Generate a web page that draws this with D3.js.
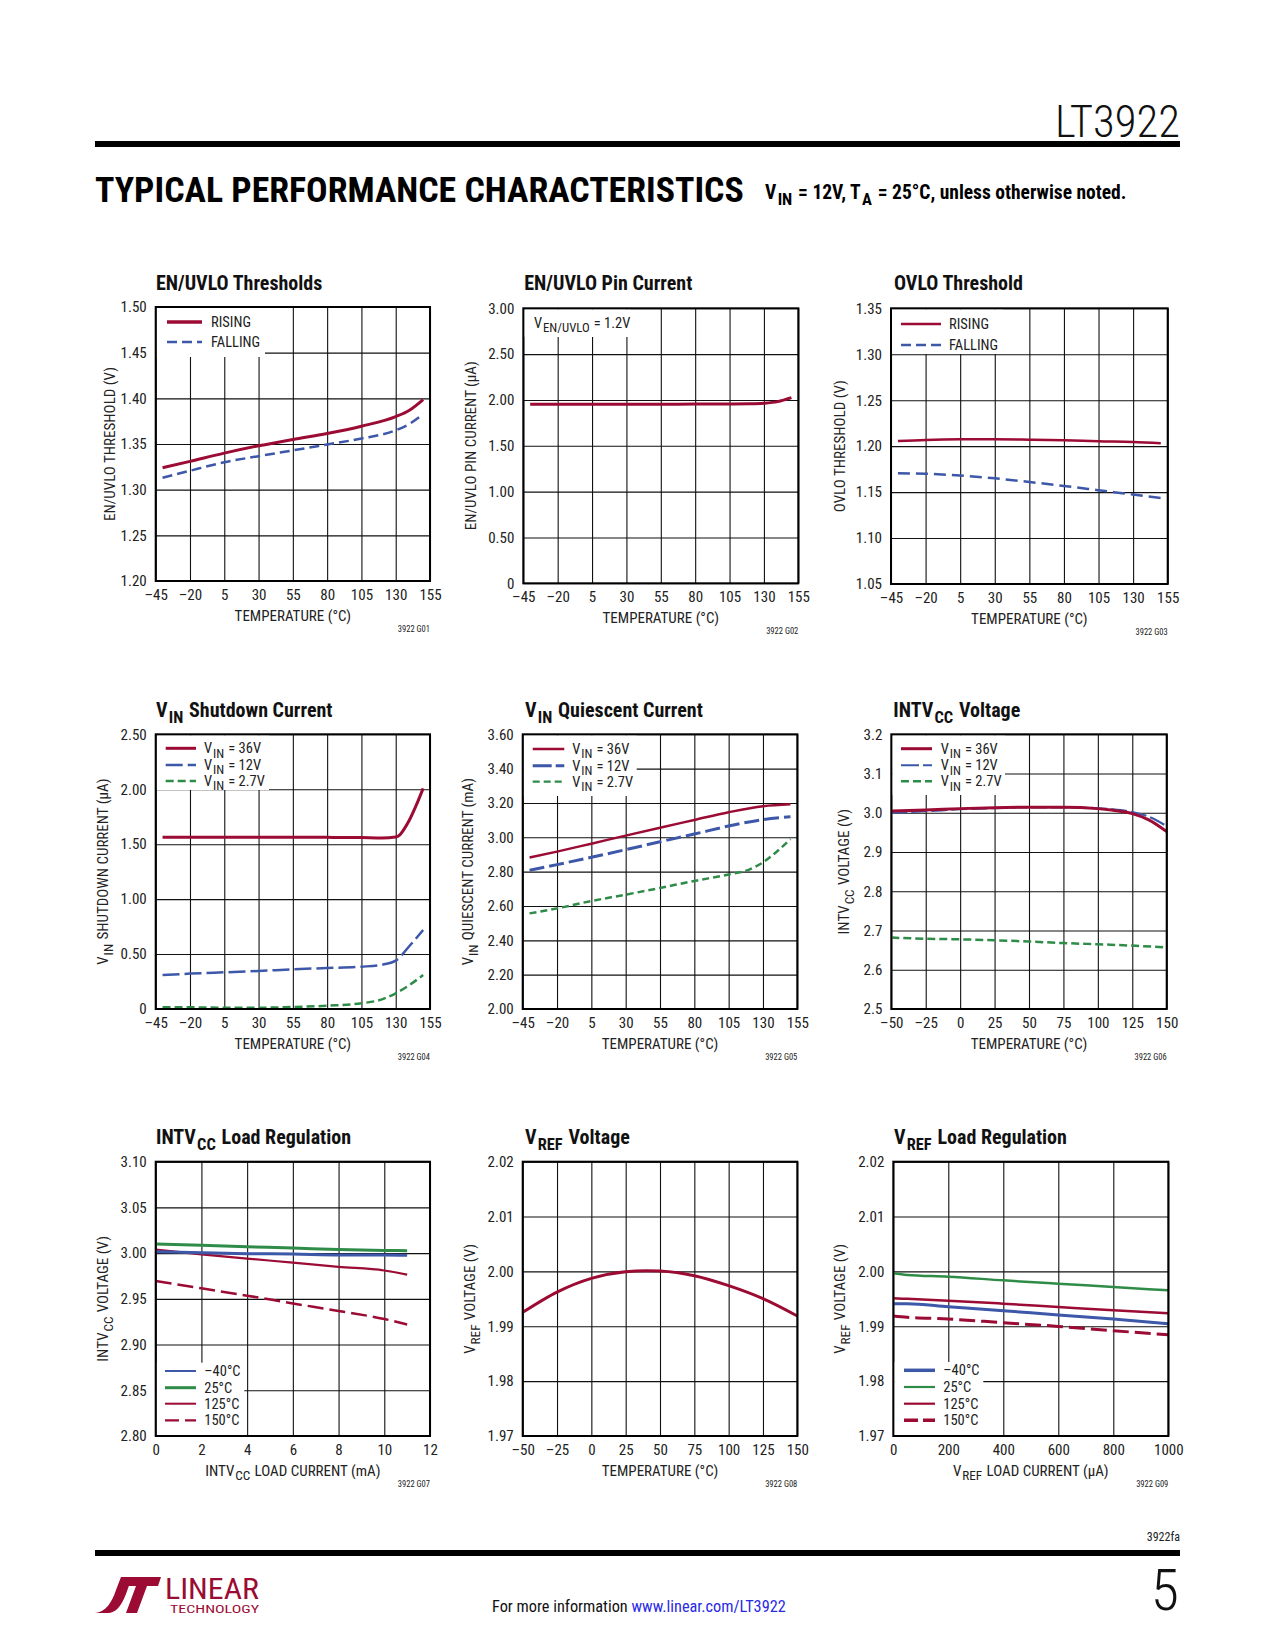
<!DOCTYPE html>
<html><head><meta charset="utf-8">
<script src="https://cdn.jsdelivr.net/npm/d3@7"></script>
<style>
body{margin:0;background:#fff;}
svg text{font-family:"Liberation Sans Narrow","Arial Narrow","Roboto Condensed",sans-serif;}
</style></head>
<body><svg id="page" width="1275" height="1650" xmlns="http://www.w3.org/2000/svg"></svg>
<script>
// ---------------- DATA ----------------
const tempTicksA = [-45, -20, 5, 30, 55, 80, 105, 130, 155];
const tempLabelsA = ['–45', '–20', '5', '30', '55', '80', '105', '130', '155'];
const tempTicksB = [-50, -25, 0, 25, 50, 75, 100, 125, 150];
const tempLabelsB = ['–50', '–25', '0', '25', '50', '75', '100', '125', '150'];

// G01 EN/UVLO Thresholds
const g01YTicks = [1.20, 1.25, 1.30, 1.35, 1.40, 1.45, 1.50];
const g01YLabels = ['1.20', '1.25', '1.30', '1.35', '1.40', '1.45', '1.50'];
const g01Temp = [-40, -20, 5, 30, 55, 80, 105, 130, 140, 150];
const g01Rising = [1.324, 1.331, 1.340, 1.348, 1.355, 1.3615, 1.3695, 1.380, 1.387, 1.3987];
const g01Falling = [1.313, 1.3207, 1.330, 1.3367, 1.343, 1.3495, 1.356, 1.365, 1.372, 1.3826];

// G02 EN/UVLO Pin Current
const g02YTicks = [0, 0.5, 1.0, 1.5, 2.0, 2.5, 3.0];
const g02YLabels = ['0', '0.50', '1.00', '1.50', '2.00', '2.50', '3.00'];
const g02Temp = [-40, -20, 5, 30, 55, 80, 105, 120, 130, 140, 150];
const g02Current = [1.953, 1.953, 1.953, 1.953, 1.954, 1.955, 1.956, 1.958, 1.964, 1.982, 2.025];

// G03 OVLO Threshold
const g03YTicks = [1.05, 1.10, 1.15, 1.20, 1.25, 1.30, 1.35];
const g03YLabels = ['1.05', '1.10', '1.15', '1.20', '1.25', '1.30', '1.35'];
const g03Temp = [-40, -20, 5, 30, 55, 80, 105, 130, 150];
const g03Rising = [1.2056, 1.2068, 1.2074, 1.2074, 1.2070, 1.2064, 1.2053, 1.2045, 1.2031];
const g03Falling = [1.1704, 1.1700, 1.1680, 1.1650, 1.1610, 1.1567, 1.1520, 1.1473, 1.1436];

// G04 VIN Shutdown Current
const g04YTicks = [0, 0.5, 1.0, 1.5, 2.0, 2.5];
const g04YLabels = ['0', '0.50', '1.00', '1.50', '2.00', '2.50'];
const g04Temp36 = [-40, -20, 5, 30, 55, 80, 105, 120, 130, 133, 136, 140, 145, 150];
const g04V36 = [1.563, 1.563, 1.563, 1.563, 1.563, 1.562, 1.560, 1.557, 1.565, 1.585, 1.635, 1.720, 1.855, 2.008];
const g04Temp = [-40, -20, 5, 30, 55, 80, 105, 120, 130, 140, 150];
const g04V12 = [0.309, 0.322, 0.334, 0.346, 0.361, 0.373, 0.385, 0.403, 0.440, 0.573, 0.719];
const g04V27 = [0.015, 0.015, 0.012, 0.012, 0.018, 0.030, 0.052, 0.088, 0.143, 0.218, 0.309];

// G05 VIN Quiescent Current
const g05YTicks = [2.0, 2.2, 2.4, 2.6, 2.8, 3.0, 3.2, 3.4, 3.6];
const g05YLabels = ['2.00', '2.20', '2.40', '2.60', '2.80', '3.00', '3.20', '3.40', '3.60'];
const g05Temp = [-40, -20, 5, 30, 55, 80, 105, 130, 150];
const g05V36 = [2.882, 2.9165, 2.963, 3.010, 3.056, 3.101, 3.146, 3.181, 3.192];
const g05V12 = [2.808, 2.841, 2.8835, 2.928, 2.974, 3.019, 3.066, 3.103, 3.120];
const g05Temp27 = [-40, -20, 5, 30, 55, 80, 105, 120, 130, 140, 150];
const g05V27 = [2.557, 2.586, 2.629, 2.666, 2.705, 2.746, 2.783, 2.812, 2.854, 2.916, 2.990];

// G06 INTVCC Voltage
const g06YTicks = [2.5, 2.6, 2.7, 2.8, 2.9, 3.0, 3.1, 3.2];
const g06YLabels = ['2.5', '2.6', '2.7', '2.8', '2.9', '3.0', '3.1', '3.2'];
const g06Temp = [-50, -25, 0, 25, 50, 75, 100, 110, 125, 137, 150];
const g06V36 = [3.0046, 3.0070, 3.0106, 3.0131, 3.0140, 3.0140, 3.0106, 3.0070, 2.9980, 2.9820, 2.9520];
const g06V12 = [3.0003, 3.0040, 3.0090, 3.0120, 3.0140, 3.0140, 3.0114, 3.0090, 3.0020, 2.9900, 2.9660];
const g06Temp27 = [-50, -25, 0, 25, 50, 75, 100, 125, 150];
const g06V27 = [2.682, 2.679, 2.6776, 2.675, 2.672, 2.668, 2.665, 2.6615, 2.657];

// G07 INTVCC Load Regulation
const g07XTicks = [0, 2, 4, 6, 8, 10, 12];
const g07XLabels = ['0', '2', '4', '6', '8', '10', '12'];
const g07YTicks = [2.80, 2.85, 2.90, 2.95, 3.00, 3.05, 3.10];
const g07YLabels = ['2.80', '2.85', '2.90', '2.95', '3.00', '3.05', '3.10'];
const g07Load = [0, 2, 4, 6, 8, 10, 11];
const g07Tm40 = [3.0016, 3.0005, 2.9994, 2.9990, 2.9980, 2.9980, 2.9976];
const g07T25 = [3.0100, 3.0085, 3.0070, 3.0056, 3.0040, 3.0030, 3.0027];
const g07T125 = [3.0038, 2.9987, 2.9940, 2.9896, 2.9850, 2.9810, 2.9765];
const g07T150 = [2.9695, 2.9615, 2.9535, 2.9450, 2.9367, 2.9280, 2.9220];

// G08 VREF Voltage
const g08YTicks = [1.97, 1.98, 1.99, 2.00, 2.01, 2.02];
const g08YLabels = ['1.97', '1.98', '1.99', '2.00', '2.01', '2.02'];
const g08Temp = [-50, -25, 0, 25, 40, 50, 75, 100, 125, 150];
const g08Vref = [1.99254, 1.99624, 1.99874, 1.99995, 2.00013, 2.00007, 1.99922, 1.99740, 1.99503, 1.99187];

// G09 VREF Load Regulation
const g09XTicks = [0, 200, 400, 600, 800, 1000];
const g09XLabels = ['0', '200', '400', '600', '800', '1000'];
const g09Load = [0, 50, 200, 400, 600, 800, 1000];
const g09T25 = [1.99965, 1.99935, 1.99904, 1.99837, 1.99776, 1.99716, 1.99655];
const g09T125 = [1.99509, 1.99500, 1.99467, 1.99412, 1.99351, 1.99290, 1.99236];
const g09Tm40 = [1.99412, 1.99412, 1.99357, 1.99284, 1.99205, 1.99132, 1.99047];
const g09T150 = [1.99187, 1.99165, 1.99132, 1.99065, 1.98998, 1.98919, 1.98846];

// ---------------- STYLE / LAYOUT ----------------
const RED = '#9b0b33', BLUE = '#3d57a9', GREEN = '#2f8c48';
const FONT = '"Liberation Sans Narrow","Arial Narrow","Roboto Condensed",sans-serif';
const svg = d3.select('#page');

function rich(sel, parts, size, ratio, gap) {
  const r = ratio || 0.82;
  const gp = gap || 0.06;
  let shifted = false;
  parts.forEach(([t, sub]) => {
    const ts = sel.append('tspan').text(t);
    if (sub) {
      ts.attr('font-size', size * r).attr('dx', size * gp);
      if (!shifted) { ts.attr('dy', size * 0.3); shifted = true; }
    } else if (shifted) { ts.attr('dy', -size * 0.3).attr('dx', size * gp); shifted = false; }
  });
}

const TEMPX = [['TEMPERATURE (°C)', 0]];
const charts = [
  { note: '3922 G01', title: [['EN/UVLO Thresholds', 0]], box: [155.7, 307, 430, 581], tb: 290, tx: 156,
    xd: [-45, 155], xt: tempTicksA, xl: tempLabelsA, yd: [1.20, 1.50], yt: g01YTicks, yl: g01YLabels,
    ylab: [['EN/UVLO THRESHOLD (V)', 0]], ylx: 115, xlab: TEMPX,
    series: [
      { x: g01Temp, y: g01Falling, c: BLUE, w: 2.5, d: '10,5' },
      { x: g01Temp, y: g01Rising, c: RED, w: 3 }],
    legend: { bg: [155.7, 307, 265, 357], lx: [167, 202], tx: 211,
      rows: [{ y: 322, c: RED, w: 3.5, t: [['RISING', 0]] }, { y: 342, c: BLUE, w: 2.5, d: '10,5', t: [['FALLING', 0]] }] } },
  { note: '3922 G02', title: [['EN/UVLO Pin Current', 0]], box: [523.3, 308.3, 798.3, 583.3], tb: 290, tx: 524.3,
    xd: [-45, 155], xt: tempTicksA, xl: tempLabelsA, yd: [0, 3], yt: g02YTicks, yl: g02YLabels,
    ylab: [['EN/UVLO PIN CURRENT (µA)', 0]], ylx: 475.7, xlab: TEMPX,
    series: [{ x: g02Temp, y: g02Current, c: RED, w: 3 }],
    legend: { bg: [523.3, 308.3, 630, 337], tx: 534,
      rows: [{ y: 323, t: [['V', 0], ['EN/UVLO', 1], [' = 1.2V', 0]] }] } },
  { note: '3922 G03', title: [['OVLO Threshold', 0]], box: [891, 308.3, 1167.7, 584], tb: 290, tx: 894,
    xd: [-45, 155], xt: tempTicksA, xl: tempLabelsA, yd: [1.05, 1.35], yt: g03YTicks, yl: g03YLabels,
    ylab: [['OVLO THRESHOLD  (V)', 0]], ylx: 845, xlab: TEMPX,
    series: [
      { x: g03Temp, y: g03Falling, c: BLUE, w: 2.5, d: '12,6' },
      { x: g03Temp, y: g03Rising, c: RED, w: 2.5 }],
    legend: { bg: [891, 308.3, 1003, 354], lx: [901, 941], tx: 949,
      rows: [{ y: 324, c: RED, w: 2.5, t: [['RISING', 0]] }, { y: 345, c: BLUE, w: 2.5, d: '10,5', t: [['FALLING', 0]] }] } },
  { note: '3922 G04', title: [['V', 0], ['IN', 1], [' Shutdown Current', 0]], box: [155.7, 734.3, 430, 1009], tb: 716.7, tx: 156,
    xd: [-45, 155], xt: tempTicksA, xl: tempLabelsA, yd: [0, 2.5], yt: g04YTicks, yl: g04YLabels,
    ylab: [['V', 0], ['IN', 1], [' SHUTDOWN CURRENT (µA)', 0]], ylx: 108.3, xlab: TEMPX,
    series: [
      { x: g04Temp, y: g04V27, c: GREEN, w: 2.5, d: '8,4' },
      { x: g04Temp, y: g04V12, c: BLUE, w: 2.5, d: '17,5' },
      { x: g04Temp36, y: g04V36, c: RED, w: 3 }],
    legend: { bg: [155.7, 734.3, 269, 790], lx: [165.7, 196], tx: 204,
      rows: [{ y: 748.3, c: RED, w: 3, t: [['V', 0], ['IN', 1], [' = 36V', 0]] },
             { y: 765, c: BLUE, w: 2.5, d: '17,5', t: [['V', 0], ['IN', 1], [' = 12V', 0]] },
             { y: 781, c: GREEN, w: 2.5, d: '8,4', t: [['V', 0], ['IN', 1], [' = 2.7V', 0]] }] } },
  { note: '3922 G05', title: [['V', 0], ['IN', 1], [' Quiescent Current', 0]], box: [522.7, 734.3, 797.3, 1009], tb: 716.7, tx: 525,
    xd: [-45, 155], xt: tempTicksA, xl: tempLabelsA, yd: [2.0, 3.6], yt: g05YTicks, yl: g05YLabels,
    ylab: [['V', 0], ['IN', 1], [' QUIESCENT CURRENT (mA)', 0]], ylx: 473.3, xlab: TEMPX,
    series: [
      { x: g05Temp27, y: g05V27, c: GREEN, w: 2.5, d: '7,4' },
      { x: g05Temp, y: g05V12, c: BLUE, w: 3, d: '15,5' },
      { x: g05Temp, y: g05V36, c: RED, w: 2.5 }],
    legend: { bg: [522.7, 734.3, 636.7, 796], lx: [532.7, 564.3], tx: 572.3,
      rows: [{ y: 749, c: RED, w: 2.3, t: [['V', 0], ['IN', 1], [' = 36V', 0]] },
             { y: 765.7, c: BLUE, w: 3, d: '19,4', t: [['V', 0], ['IN', 1], [' = 12V', 0]] },
             { y: 781.7, c: GREEN, w: 2.2, d: '7,4', t: [['V', 0], ['IN', 1], [' = 2.7V', 0]] }] } },
  { note: '3922 G06', title: [['INTV', 0], ['CC', 1], [' Voltage', 0]], box: [891.3, 734.3, 1166.7, 1009], tb: 716.7, tx: 893.3,
    xd: [-50, 150], xt: tempTicksB, xl: tempLabelsB, yd: [2.5, 3.2], yt: g06YTicks, yl: g06YLabels,
    ylab: [['INTV', 0], ['CC', 1], [' VOLTAGE (V)', 0]], ylx: 849, xlab: TEMPX,
    series: [
      { x: g06Temp27, y: g06V27, c: GREEN, w: 2.5, d: '8,4' },
      { x: g06Temp, y: g06V12, c: BLUE, w: 2.2, d: '16,4' },
      { x: g06Temp, y: g06V36, c: RED, w: 3 }],
    legend: { bg: [891.3, 734.3, 1005, 795], lx: [901, 932], tx: 940.7,
      rows: [{ y: 748.7, c: RED, w: 3, t: [['V', 0], ['IN', 1], [' = 36V', 0]] },
             { y: 765.3, c: BLUE, w: 2, d: '18,4', t: [['V', 0], ['IN', 1], [' = 12V', 0]] },
             { y: 781.3, c: GREEN, w: 2.5, d: '8,4', t: [['V', 0], ['IN', 1], [' = 2.7V', 0]] }] } },
  { note: '3922 G07', title: [['INTV', 0], ['CC', 1], [' Load Regulation', 0]], box: [155.7, 1161.7, 430, 1436], tb: 1144, tx: 156,
    xd: [0, 12], xt: g07XTicks, xl: g07XLabels, yd: [2.80, 3.10], yt: g07YTicks, yl: g07YLabels,
    ylab: [['INTV', 0], ['CC', 1], [' VOLTAGE (V)', 0]], ylx: 108.3,
    xlab: [['INTV', 0], ['CC', 1], [' LOAD CURRENT (mA)', 0]],
    series: [
      { x: g07Load, y: g07T150, c: RED, w: 2.5, d: '16,6' },
      { x: g07Load, y: g07T125, c: RED, w: 2.2 },
      { x: g07Load, y: g07T25, c: GREEN, w: 3 },
      { x: g07Load, y: g07Tm40, c: BLUE, w: 3 }],
    legend: { bg: [155.7, 1361.7, 244.3, 1436], lx: [165, 196], tx: 204.3,
      rows: [{ y: 1371, c: BLUE, w: 2, t: [['–40°C', 0]] },
             { y: 1387.7, c: GREEN, w: 3, t: [['25°C', 0]] },
             { y: 1403.7, c: RED, w: 2, t: [['125°C', 0]] },
             { y: 1420.3, c: RED, w: 2.2, d: '14,6', t: [['150°C', 0]] }] } },
  { note: '3922 G08', title: [['V', 0], ['REF', 1], [' Voltage', 0]], box: [522.7, 1161.7, 797.3, 1436], tb: 1144, tx: 525,
    xd: [-50, 150], xt: tempTicksB, xl: tempLabelsB, yd: [1.97, 2.02], yt: g08YTicks, yl: g08YLabels,
    ylab: [['V', 0], ['REF', 1], [' VOLTAGE (V)', 0]], ylx: 475, xlab: TEMPX,
    series: [{ x: g08Temp, y: g08Vref, c: RED, w: 3 }] },
  { note: '3922 G09', title: [['V', 0], ['REF', 1], [' Load Regulation', 0]], box: [893.3, 1161.7, 1168.3, 1436], tb: 1144, tx: 894,
    xd: [0, 1000], xt: g09XTicks, xl: g09XLabels, yd: [1.97, 2.02], yt: g08YTicks, yl: g08YLabels,
    ylab: [['V', 0], ['REF', 1], [' VOLTAGE (V)', 0]], ylx: 845,
    xlab: [['V', 0], ['REF', 1], [' LOAD CURRENT  (µA)', 0]],
    series: [
      { x: g09Load, y: g09T150, c: RED, w: 3, d: '16,6' },
      { x: g09Load, y: g09Tm40, c: BLUE, w: 3 },
      { x: g09Load, y: g09T125, c: RED, w: 2.5 },
      { x: g09Load, y: g09T25, c: GREEN, w: 2.5 }],
    legend: { bg: [893.3, 1361, 983.3, 1436], lx: [904, 935], tx: 943.3,
      rows: [{ y: 1370.3, c: BLUE, w: 3.5, t: [['–40°C', 0]] },
             { y: 1387, c: GREEN, w: 2.2, t: [['25°C', 0]] },
             { y: 1403.7, c: RED, w: 2.2, t: [['125°C', 0]] },
             { y: 1420.3, c: RED, w: 3.5, d: '14,5', t: [['150°C', 0]] }] } }
];

function drawChart(c) {
  const [L, T, R, B] = c.box;
  const W = R - L, H = B - T;
  const g = svg.append('g');
  const x = d3.scaleLinear().domain(c.xd).range([L, R]);
  const y = d3.scaleLinear().domain(c.yd).range([B, T]);

  const xa = g.append('g').attr('transform', `translate(0,${B})`)
    .call(d3.axisBottom(x).tickValues(c.xt).tickFormat((d, i) => c.xl[i]).tickSizeInner(-H).tickSizeOuter(0).tickPadding(8));
  const ya = g.append('g').attr('transform', `translate(${L},0)`)
    .call(d3.axisLeft(y).tickValues(c.yt).tickFormat((d, i) => c.yl[i]).tickSizeInner(-W).tickSizeOuter(0).tickPadding(9));
  [xa, ya].forEach(a => {
    a.attr('font-family', FONT).attr('font-size', 15);
    a.select('.domain').remove();
    a.selectAll('line').attr('stroke', '#111').attr('stroke-width', 1.1);
    a.selectAll('text').attr('fill', '#222');
  });

  if (c.legend) {
    const b = c.legend.bg;
    g.append('rect').attr('x', b[0] + 1).attr('y', b[1] + 1).attr('width', b[2] - b[0] - 1).attr('height', b[3] - b[1] - 1).attr('fill', '#fff');
  }

  const line = d3.line().x((d) => x(d[0])).y((d) => y(d[1])).curve(d3.curveMonotoneX);
  c.series.forEach(s => {
    g.append('path').datum(s.x.map((v, i) => [v, s.y[i]]))
      .attr('d', line).attr('fill', 'none').attr('stroke', s.c).attr('stroke-width', s.w)
      .attr('stroke-dasharray', s.d || null).attr('stroke-linecap', 'butt').attr('stroke-linejoin', 'round');
  });

  g.append('rect').attr('x', L).attr('y', T).attr('width', W).attr('height', H)
    .attr('fill', 'none').attr('stroke', '#000').attr('stroke-width', 2);

  if (c.legend) {
    const lg = c.legend;
    lg.rows.forEach(r => {
      if (lg.lx) {
        g.append('line').attr('x1', lg.lx[0]).attr('x2', lg.lx[1]).attr('y1', r.y).attr('y2', r.y)
          .attr('stroke', r.c).attr('stroke-width', r.w).attr('stroke-dasharray', r.d || null);
      }
      const t = g.append('text').attr('x', lg.tx).attr('y', r.y + 5).attr('font-size', 14.5).attr('fill', '#222');
      rich(t, r.t, 14.5, 0.88);
    });
  }

  // title
  const tt = g.append('text').attr('x', c.tx).attr('y', c.tb).attr('font-size', 20).attr('font-weight', 'bold').attr('fill', '#111');
  rich(tt, c.title, 20);
  // x label
  const xl = g.append('text').attr('x', (L + R) / 2).attr('y', B + 39.5).attr('text-anchor', 'middle').attr('font-size', 15).attr('fill', '#222');
  rich(xl, c.xlab, 15, 0.88);
  // y label
  const yl = g.append('text').attr('transform', `translate(${c.ylx},${(T + B) / 2}) rotate(-90)`).attr('text-anchor', 'middle').attr('font-size', 15).attr('fill', '#222');
  rich(yl, c.ylab, 15, 0.88);
  // note
  g.append('text').attr('x', R).attr('y', B + 51).attr('text-anchor', 'end').attr('font-size', 8.5).attr('fill', '#222').text(c.note);
}

charts.forEach(drawChart);

// ---------------- HEADER ----------------
svg.append('text').attr('x', 1180).attr('y', 137).attr('text-anchor', 'end')
  .attr('font-size', 44).attr('font-weight', 300).attr('font-family', 'Roboto, sans-serif').attr('fill', '#111')
  .attr('textLength', 125).attr('lengthAdjust', 'spacingAndGlyphs').text('LT3922');
svg.append('rect').attr('x', 95).attr('y', 141).attr('width', 1085).attr('height', 6).attr('fill', '#000');
// main heading: sized so its natural width fits 649px (no glyph stretching)
const head = svg.append('text').attr('x', 95).attr('y', 202).attr('font-size', 38).attr('font-weight', 'bold')
  .attr('fill', '#000').text('TYPICAL PERFORMANCE CHARACTERISTICS');
const hw = head.node().getComputedTextLength();
if (hw > 0) head.attr('font-size', Math.min(40, 38 * 649 / hw));
const sub = svg.append('text').attr('x', 765).attr('y', 199).attr('font-size', 19.5).attr('font-weight', 'bold').attr('fill', '#000');
rich(sub, [['V', 0], ['IN', 1], [' = 12V, T', 0], ['A', 1], [' = 25°C, unless otherwise noted.', 0]], 19.5, 0.85, 0.07);

// ---------------- FOOTER ----------------
svg.append('text').attr('x', 1180).attr('y', 1541).attr('text-anchor', 'end').attr('font-size', 12).attr('fill', '#222').text('3922fa');
svg.append('rect').attr('x', 95).attr('y', 1550).attr('width', 1085).attr('height', 6).attr('fill', '#000');
svg.append('text').attr('x', 1179).attr('y', 1610).attr('text-anchor', 'end').attr('font-size', 58).attr('font-weight', 300)
  .attr('font-family', 'Roboto, sans-serif').attr('fill', '#111').text('5');
const ft = svg.append('text').attr('x', 492).attr('y', 1612).attr('font-size', 16.3).attr('fill', '#111');
ft.append('tspan').text('For more information ');
ft.append('tspan').attr('fill', '#2a2ae6').text('www.linear.com/LT3922');

// logo
const LOGO = '#9b0b33';
svg.append('path').attr('fill', LOGO)
  .attr('d', 'M95,1613 C106,1612 112,1602 116,1590 L121,1577 L132,1577 L126,1594 C121,1607 115,1613 108,1613 Z');
svg.append('path').attr('fill', LOGO)
  .attr('d', 'M126,1577 L161,1577 L158,1586 L147,1586 L137,1613 L126,1613 L136,1586 L123,1586 Z');
svg.append('text').attr('x', 165).attr('y', 1599).attr('font-size', 29).attr('fill', LOGO)
  .attr('textLength', 94).attr('lengthAdjust', 'spacingAndGlyphs').text('LINEAR');
svg.append('text').attr('x', 170).attr('y', 1613).attr('font-size', 10).attr('fill', LOGO)
  .attr('textLength', 89).attr('lengthAdjust', 'spacingAndGlyphs').text('TECHNOLOGY');
</script>
</body></html>
